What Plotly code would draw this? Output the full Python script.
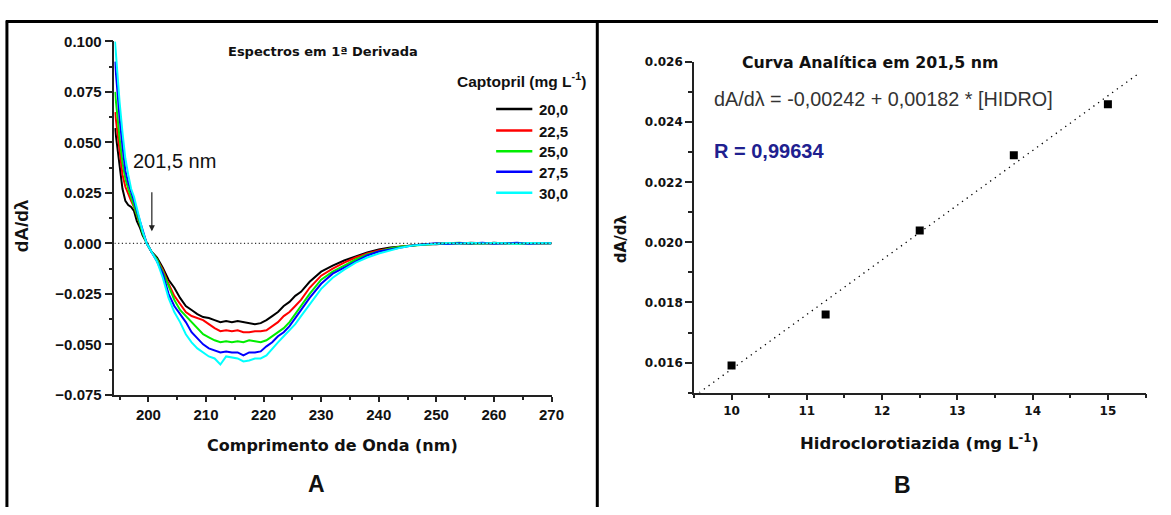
import plotly.graph_objects as go

# ---------------- data: panel A (1st derivative spectra) ----------------
wavelength = [194.2, 194.5, 195, 195.5, 196, 196.5, 197, 197.5, 198, 198.5, 199, 199.7,
              200.5, 201.5, 202.5, 203.5, 204.5, 205.5, 206.5, 207.5, 208.5, 209.5,
              210.5, 211.5, 212.5, 213.5, 214.5, 215.5, 216.5, 217.5, 218.5, 219.5,
              220.5, 221.5, 222.5, 223.5, 224.5, 225.5, 226.5, 228, 230, 232, 234, 236,
              238, 240, 242, 244, 246, 248, 250, 252, 254, 256, 258, 260, 262, 264, 266,
              268, 270]

captopril_20_0 = [0.057, 0.050, 0.036, 0.027, 0.021, 0.019, 0.018, 0.016, 0.011, 0.008, 0.004, 0.000,
                  -0.004, -0.007, -0.012, -0.018, -0.022, -0.027, -0.031, -0.033, -0.035, -0.0365,
                  -0.037, -0.038, -0.039, -0.0385, -0.039, -0.0385, -0.039, -0.0395, -0.040, -0.0395,
                  -0.038, -0.036, -0.034, -0.031, -0.029, -0.026, -0.024, -0.019, -0.014, -0.011,
                  -0.0085, -0.0065, -0.0045, -0.003, -0.002, -0.0015, -0.001, -0.0005, -0.0004, 0.0,
                  -0.0003, 0.0002, -0.0002, 0.0003, -0.0001, 0.0002, 0.0, 0.0002, 0.0]

captopril_22_5 = [0.065, 0.058, 0.045, 0.034, 0.028, 0.024, 0.021, 0.018, 0.014, 0.010, 0.005, 0.000,
                  -0.004, -0.008, -0.013, -0.020, -0.026, -0.030, -0.034, -0.036, -0.037, -0.038,
                  -0.040, -0.042, -0.0435, -0.043, -0.0435, -0.043, -0.044, -0.044, -0.0435, -0.0435,
                  -0.043, -0.041, -0.039, -0.036, -0.034, -0.031, -0.028, -0.022, -0.016, -0.0125,
                  -0.0095, -0.007, -0.005, -0.0035, -0.0025, -0.0015, -0.001, -0.0006, -0.0003, 0.0002,
                  -0.0002, 0.0003, 0.0, -0.0002, 0.0002, 0.0, 0.0002, -0.0001, 0.0]

captopril_25_0 = [0.075, 0.066, 0.052, 0.040, 0.032, 0.027, 0.023, 0.019, 0.015, 0.010, 0.005, 0.000,
                  -0.004, -0.008, -0.014, -0.021, -0.028, -0.033, -0.036, -0.039, -0.042, -0.045,
                  -0.0465, -0.048, -0.049, -0.0485, -0.049, -0.0485, -0.049, -0.048, -0.0485, -0.049,
                  -0.048, -0.046, -0.044, -0.042, -0.039, -0.035, -0.031, -0.025, -0.018, -0.014,
                  -0.011, -0.008, -0.0055, -0.004, -0.0025, -0.0015, -0.001, -0.0005, -0.0002, 0.0001,
                  0.0003, -0.0002, 0.0002, 0.0, 0.0002, -0.0002, 0.0001, 0.0002, 0.0]

captopril_27_5 = [0.090, 0.078, 0.062, 0.048, 0.036, 0.030, 0.026, 0.021, 0.016, 0.011, 0.006, 0.000,
                  -0.004, -0.009, -0.015, -0.025, -0.031, -0.035, -0.039, -0.044, -0.047, -0.050,
                  -0.052, -0.053, -0.054, -0.0535, -0.054, -0.054, -0.0555, -0.054, -0.054, -0.0535,
                  -0.051, -0.049, -0.046, -0.044, -0.041, -0.037, -0.033, -0.027, -0.020, -0.015,
                  -0.012, -0.009, -0.006, -0.004, -0.003, -0.002, -0.001, -0.0005, 0.0, -0.0003,
                  0.0002, -0.0001, 0.0003, -0.0002, 0.0001, 0.0003, -0.0002, 0.0001, 0.0]

captopril_30_0 = [0.100, 0.088, 0.070, 0.055, 0.042, 0.034, 0.027, 0.023, 0.017, 0.012, 0.006, 0.000,
                  -0.004, -0.009, -0.017, -0.027, -0.034, -0.039, -0.045, -0.049, -0.052, -0.054,
                  -0.056, -0.057, -0.060, -0.056, -0.0565, -0.057, -0.0585, -0.058, -0.057, -0.057,
                  -0.0555, -0.052, -0.049, -0.046, -0.043, -0.040, -0.036, -0.030, -0.0225, -0.017,
                  -0.013, -0.0095, -0.007, -0.005, -0.0035, -0.002, -0.001, -0.0005, 0.0, 0.0002,
                  -0.0002, 0.0003, -0.0001, 0.0002, 0.0, -0.0002, 0.0002, 0.0001, 0.0]

series_labels = ["20,0", "22,5", "25,0", "27,5", "30,0"]
series_values = [captopril_20_0, captopril_22_5, captopril_25_0, captopril_27_5, captopril_30_0]
series_colors = ["#000000", "#ff0000", "#00ee00", "#0000ff", "#00ffff"]

# ---------------- data: panel B (analytical curve) ----------------
hidro_conc = [10.0, 11.25, 12.5, 13.75, 15.0]
hidro_signal = [0.0159, 0.0176, 0.0204, 0.0229, 0.0246]
fit_intercept = -0.00242
fit_slope = 0.00182
fit_x = [9.57, 15.4]
fit_y = [fit_intercept + fit_slope * v for v in fit_x]

W, H = 1171, 515


def px(x):
    return x / W


def py(y):
    return 1 - y / H


fig = go.Figure()

for lab, vals, col in zip(series_labels, series_values, series_colors):
    fig.add_trace(go.Scatter(x=wavelength, y=vals, mode="lines", name=lab,
                             line=dict(color=col, width=2), xaxis="x", yaxis="y",
                             showlegend=False))

fig.add_trace(go.Scatter(x=fit_x, y=fit_y, mode="lines", name="ajuste",
                         line=dict(color="#000", width=1.3, dash="1.3px,4.5px"),
                         xaxis="x2", yaxis="y2", showlegend=False))
fig.add_trace(go.Scatter(x=hidro_conc, y=hidro_signal, mode="markers", name="HIDRO",
                         marker=dict(symbol="square", size=8, color="#000"),
                         xaxis="x2", yaxis="y2", showlegend=False))

tickA = dict(family="Liberation Sans, Arial", size=15, color="#111", weight="bold")
tickB = dict(family="DejaVu Sans", size=12, color="#111", weight="bold")

axis_common = dict(showline=True, linecolor="#222", linewidth=1.5, ticks="outside",
                   tickcolor="#222", tickwidth=1.5, showgrid=False, zeroline=False)

fig.update_layout(
    width=W, height=H, autosize=False,
    margin=dict(l=0, r=0, t=0, b=0),
    paper_bgcolor="white", plot_bgcolor="white",
    xaxis=dict(domain=[px(115.7), px(557.7)], range=[194.1, 270], anchor="y",
               tick0=200, dtick=10, ticklen=5, tickfont=tickA,
               minor=dict(ticks="outside", dtick=5, tick0=195, ticklen=3, tickcolor="#222"),
               **axis_common),
    yaxis=dict(domain=[py(399), py(33.5)], range=[-0.075, 0.100], anchor="x",
               tick0=-0.075, dtick=0.025, tickformat=".3f", ticklen=8, tickfont=tickA,
               minor=dict(ticks="outside", dtick=0.0125, ticklen=4, tickcolor="#222"),
               **axis_common),
    xaxis2=dict(domain=[px(701.7), px(1158.4)], range=[9.5, 15.5], anchor="y2",
                tick0=10, dtick=1, ticklen=6, tickfont=tickB,
                minor=dict(ticks="outside", dtick=0.5, tick0=9.5, ticklen=4, tickcolor="#222"),
                **axis_common),
    yaxis2=dict(domain=[py(396.7), py(55)], range=[0.015, 0.026], anchor="x2",
                tick0=0.016, dtick=0.002, tickformat=".3f", ticklen=7, tickfont=tickB,
                minor=dict(ticks="outside", dtick=0.001, tick0=0.015, ticklen=4, tickcolor="#222"),
                **axis_common),
)

shapes = []
# zero reference line in panel A
shapes.append(dict(type="line", xref="x", yref="y", x0=194.1, x1=270, y0=0, y1=0,
                   line=dict(color="#333", width=1.2, dash="1.2px,2.5px")))
# frame lines
shapes.append(dict(type="line", xref="paper", yref="paper", x0=px(6), x1=1, y0=py(13), y1=py(13),
                   line=dict(color="#000", width=3)))
shapes.append(dict(type="line", xref="paper", yref="paper", x0=px(7), x1=px(7), y0=py(12), y1=0,
                   line=dict(color="#000", width=3)))
shapes.append(dict(type="line", xref="paper", yref="paper", x0=px(604), x1=px(604), y0=py(12), y1=0,
                   line=dict(color="#000", width=3)))
# legend swatches
legend_y = [103.3, 125.7, 147, 168.3, 190]
for yy, col in zip(legend_y, series_colors):
    shapes.append(dict(type="line", xref="paper", yref="paper", x0=px(501.7), x1=px(538.3),
                       y0=py(yy), y1=py(yy), line=dict(color=col, width=2.5)))
fig.update_layout(shapes=shapes)

ann = []


def text(x, y, s, size, family="Liberation Sans, Arial", weight="normal", color="#111",
         xanchor="center", angle=0):
    ann.append(dict(x=px(x), y=py(y), xref="paper", yref="paper", text=s, showarrow=False,
                    xanchor=xanchor, yanchor="middle", textangle=angle,
                    font=dict(family=family, size=size, weight=weight, color=color)))


# legend labels
for yy, lab in zip(legend_y, series_labels):
    text(543, yy + 0.5, lab, 15, weight="bold", xanchor="left")
text(460, 73, "Captopril (mg L<sup>-1</sup>)", 15.5, weight="bold", xanchor="left")
text(229, 43.5, "Espectros em 1ª Derivada", 13, family="DejaVu Sans", weight="bold", xanchor="left")

# axis titles and panel letters
text(336, 451.5, "Comprimento de Onda (nm)", 16, family="DejaVu Sans", weight="bold")
text(22, 224, "dA/dλ", 19, weight="bold", angle=-90)
text(930, 448, "Hidroclorotiazida (mg L<sup>-1</sup>)", 16.5, family="DejaVu Sans", weight="bold")
text(628, 238, "dA/dλ", 15, family="DejaVu Sans", weight="bold", angle=-90)
text(320, 491.5, "A", 23, weight="bold")
text(913, 492, "B", 23, weight="bold")

# panel B texts
text(748, 55, "Curva Analítica em 201,5 nm", 15.8, family="DejaVu Sans", weight="bold", xanchor="left")
text(720, 93.5, "dA/dλ = -0,00242 + 0,00182 * [HIDRO]", 19.8, color="#333", xanchor="left")
text(720, 146.7, "R = 0,99634", 20, weight="bold", color="#20208f", xanchor="left")

# panel A arrow + label
ann.append(dict(x=200.6, y=0.006, ax=200.6, ay=0.026, xref="x", yref="y", axref="x", ayref="y",
                text="", showarrow=True, arrowhead=2, arrowsize=1, arrowwidth=1.2, arrowcolor="#222"))
ann.append(dict(x=204.6, y=0.0408, xref="x", yref="y", text="201,5 nm", showarrow=False,
                xanchor="center", yanchor="middle",
                font=dict(family="Liberation Sans, Arial", size=20, color="#111")))

fig.update_layout(annotations=ann)

fig.write_html("out.html")
